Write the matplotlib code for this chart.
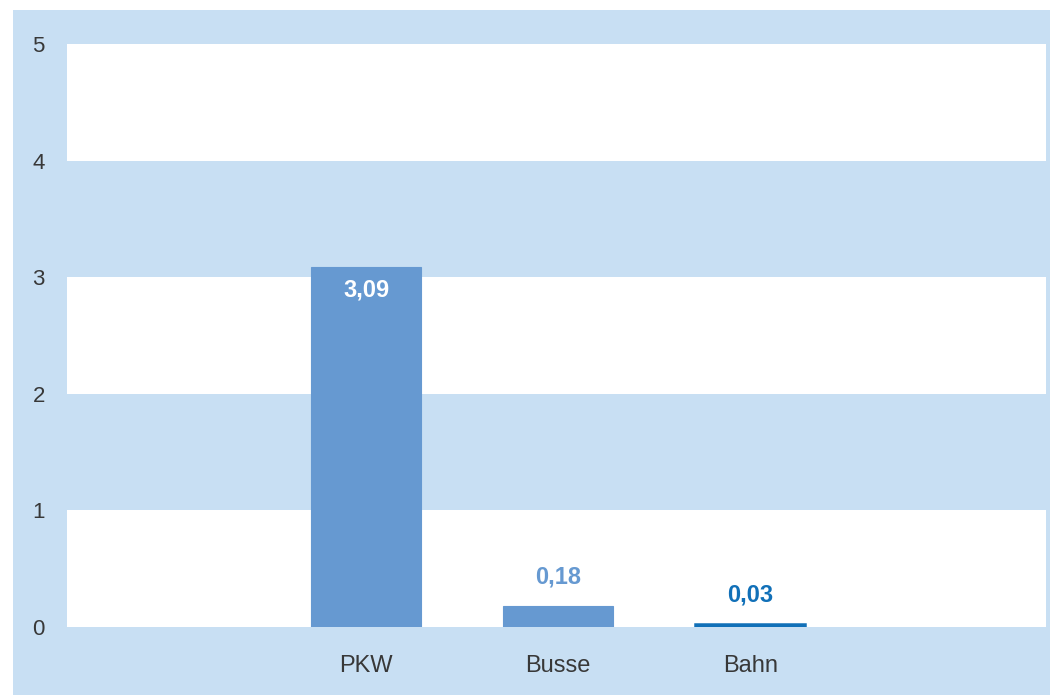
import matplotlib
matplotlib.use("Agg")
import matplotlib.pyplot as plt
from matplotlib.patches import Rectangle

categories = ["PKW", "Busse", "Bahn"]
values = [3.09, 0.18, 0.03]
value_labels = ["3,09", "0,18", "0,03"]
yticks = [0, 1, 2, 3, 4, 5]

bar_colors = ["#6699d1", "#6699d1", "#1170b8"]
label_colors = ["white", "#6699d1", "#1170b8"]
bg_blue = "#c8dff3"

plt.rcParams['font.family'] = ['Liberation Sans Narrow', 'Liberation Sans', 'DejaVu Sans']

fig = plt.figure(figsize=(10.51, 6.95), dpi=100)
fig.patch.set_facecolor("white")
fig.patches.append(Rectangle((13 / 1051, 0), (1050 - 13) / 1051, (695 - 10) / 695,
                             transform=fig.transFigure, facecolor=bg_blue,
                             edgecolor="none", zorder=-10))

ax = fig.add_axes([67 / 1051, 68 / 695, (1046 - 67) / 1051, (627 - 44) / 695])
ax.set_zorder(5)
ax.set_facecolor(bg_blue)
for lo in (0, 2, 4):
    ax.axhspan(lo, lo + 1, color="white", zorder=0, lw=0)

x = list(range(len(categories)))
bars = ax.bar(x, values, width=0.575, color=bar_colors, zorder=2,
              edgecolor=bar_colors, linewidth=[0.8, 0.8, 1.8])

for xi, v, lab, c in zip(x, values, value_labels, label_colors):
    if v > 1:
        ax.text(xi, v - 0.1, lab, ha="center", va="top", color=c,
                fontsize=17, fontweight="bold", zorder=3)
    else:
        ax.text(xi, v + 0.15, lab, ha="center", va="bottom", color=c,
                fontsize=17, fontweight="bold", zorder=3)

ax.set_xlim(-1.557, 3.54)
ax.set_ylim(0, 5)
ax.set_yticks(yticks)
ax.set_yticklabels([str(t) for t in yticks], fontsize=16, color="#383838")
ax.set_xticks(x)
ax.set_xticklabels(categories, fontsize=17, color="#383838")
ax.tick_params(axis="both", length=0)
ax.tick_params(axis="y", pad=16)
ax.tick_params(axis="x", pad=20)
for lbl in ax.get_yticklabels():
    lbl.set_y(lbl.get_position()[1])
for s in ax.spines.values():
    s.set_visible(False)

fig.savefig("out.png", dpi=100, facecolor=fig.get_facecolor())
